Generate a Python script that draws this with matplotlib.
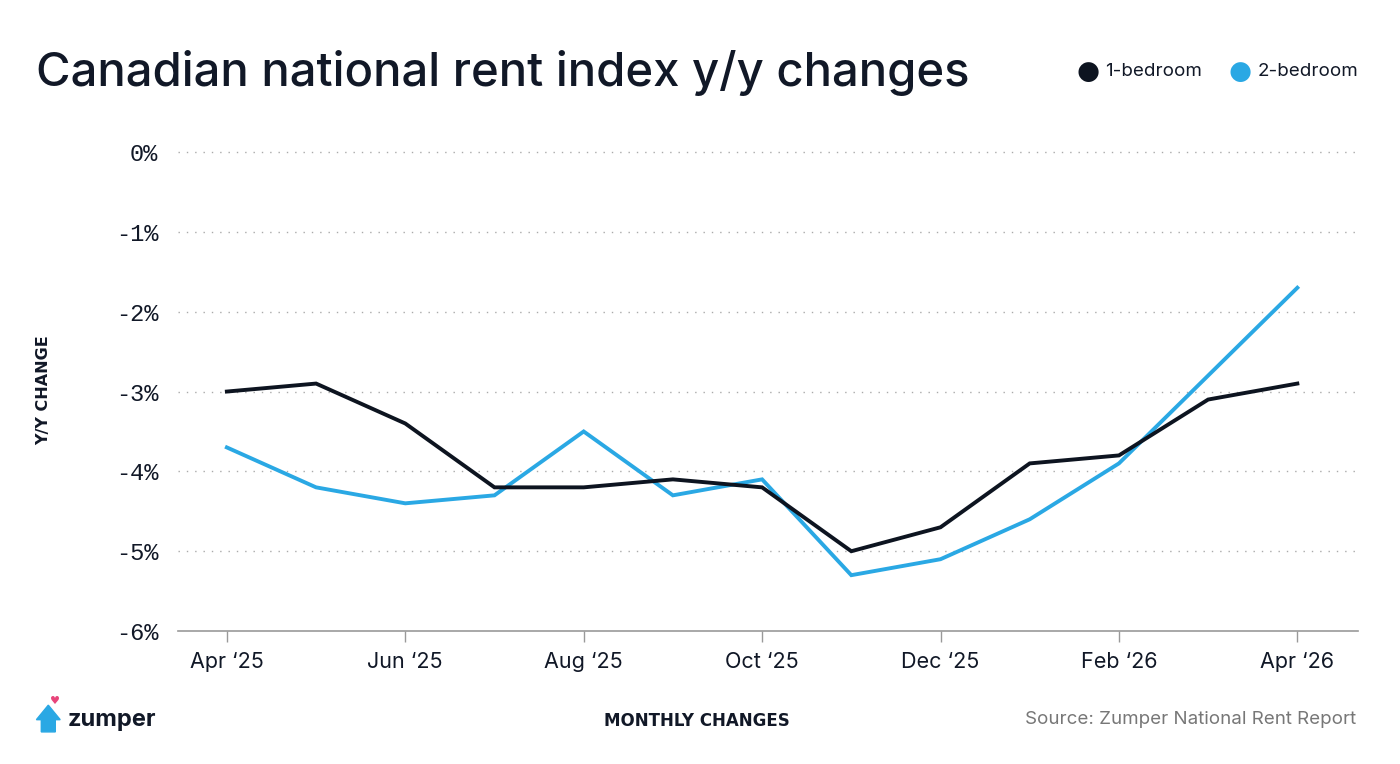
import matplotlib.pyplot as plt
import matplotlib.patches as mpatches
import numpy as np

months = ["Apr \u201825", "May \u201825", "Jun \u201825", "Jul \u201825", "Aug \u201825", "Sep \u201825",
          "Oct \u201825", "Nov \u201825", "Dec \u201825", "Jan \u201826", "Feb \u201826", "Mar \u201826",
          "Apr \u201826"]
one_bed = [-3.0, -2.9, -3.4, -4.2, -4.2, -4.1, -4.2, -5.0, -4.7, -3.9, -3.8, -3.1, -2.9]
two_bed = [-3.7, -4.2, -4.4, -4.3, -3.5, -4.3, -4.1, -5.3, -5.1, -4.6, -3.9, -2.8, -1.7]
yticks = [0, -1, -2, -3, -4, -5, -6]

c1 = "#0d1420"
c2 = "#2aa8e4"
dark = "#111827"

fig = plt.figure(figsize=(14, 7.64), dpi=100)
ax = fig.add_axes([0.127, 0.174, 0.843, 0.627])

x = np.arange(len(months))
ax.plot(x, two_bed, color=c2, lw=2.8, solid_joinstyle="miter", zorder=3)
ax.plot(x, one_bed, color=c1, lw=2.8, solid_joinstyle="miter", zorder=4)

ax.set_xlim(-0.55, 12.68)
ax.set_ylim(-6, 0)
ax.set_xticks(x[::2])
ax.set_xticklabels(months[::2], fontsize=15.5, color=dark, family="Inter")
ax.set_yticks(yticks)
ax.set_yticklabels([f"{v}%" for v in yticks],
                   fontsize=17, color=dark, family="Liberation Mono")
ax.tick_params(axis="x", length=8, width=1, color="#999999", pad=7)
ax.tick_params(axis="y", length=0, pad=14)

for v in yticks[:-1]:
    ax.axhline(v, color="#aaaaaa", lw=1, ls=(0, (1, 5)), zorder=1, clip_on=False)

for s in ["top", "right", "left"]:
    ax.spines[s].set_visible(False)
ax.spines["bottom"].set_color("#999999")
ax.spines["bottom"].set_linewidth(1.2)

fig.text(0.026, 0.905, "Canadian national rent index y/y changes", fontsize=34,
         fontweight="medium", family="Inter", color=dark, va="center", ha="left")

# legend
fig.text(0.777, 0.906, "\u25cf", fontsize=19, color=c1, va="center", ha="center")
fig.text(0.789, 0.906, "1-bedroom", fontsize=13.5, color=dark, va="center", ha="left", family="Inter")
fig.text(0.886, 0.906, "\u25cf", fontsize=19, color=c2, va="center", ha="center")
fig.text(0.898, 0.906, "2-bedroom", fontsize=13.5, color=dark, va="center", ha="left", family="Inter")

fig.text(0.031, 0.49, "Y/Y CHANGE", rotation=90, fontsize=11.5, fontweight="bold",
         color=dark, va="center", ha="center", family="DejaVu Sans")
fig.text(0.498, 0.056, "MONTHLY CHANGES", fontsize=12, fontweight="bold",
         color=dark, va="center", ha="center", family="DejaVu Sans")
fig.text(0.969, 0.058, "Source: Zumper National Rent Report", fontsize=13.5,
         color="#777777", va="center", ha="right", family="Inter")

# zumper logo
house = mpatches.Polygon([[0.026, 0.058], [0.0345, 0.077], [0.043, 0.058], [0.0395, 0.058],
                          [0.0395, 0.042], [0.0295, 0.042], [0.0295, 0.058]],
                         closed=True, transform=fig.transFigure, color=c2)
fig.patches.append(house)
fig.text(0.0395, 0.082, "\u2665", fontsize=8, color="#e8457a", va="center", ha="center")
fig.text(0.048, 0.057, "zumper", fontsize=17, fontweight="bold", color=dark,
         va="center", ha="left", family="Inter")

fig.savefig("out.png", dpi=100, facecolor="white")
